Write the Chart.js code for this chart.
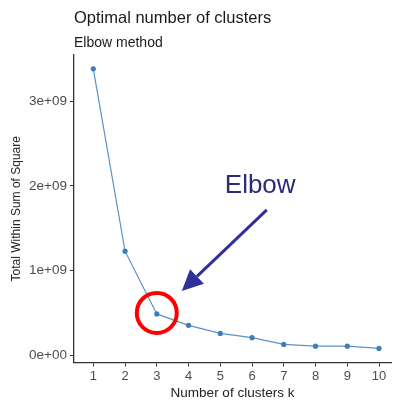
<!DOCTYPE html>
<html>
<head>
<meta charset="utf-8">
<script src="https://cdn.jsdelivr.net/npm/chart.js@4"></script>
<style>
  html, body { margin: 0; padding: 0; background: #fff; }
  #wrap { width: 395px; height: 401px; }
</style>
</head>
<body>
<div id="wrap"><canvas id="chart-elbow"></canvas></div>
<script>
// k values and total within-cluster sum of squares
const clusters = [1, 2, 3, 4, 5, 6, 7, 8, 9, 10];
const wss = [3.38e9, 1.23e9, 0.49e9, 0.355e9, 0.26e9, 0.21e9, 0.13e9, 0.11e9, 0.11e9, 0.083e9];
const yTicks = [0, 1e9, 2e9, 3e9];
const elbowIndex = 2;

const FONT = '"Liberation Sans", Arial, sans-serif';

// '1e+09' style labels
function sciLabel(v) {
  if (v === 0) return '0e+00';
  const exp = Math.floor(Math.log10(v));
  const mant = Math.round(v / Math.pow(10, exp));
  return mant + 'e+' + String(exp).padStart(2, '0');
}

// red ring around the elbow point plus the arrow and its label
const elbowMarker = {
  id: 'elbowMarker',
  afterDatasetsDraw(chart) {
    const { ctx, scales } = chart;
    const px = scales.x.getPixelForValue(clusters[elbowIndex]);
    const py = scales.y.getPixelForValue(wss[elbowIndex]);
    ctx.save();

    ctx.strokeStyle = '#ff0000';
    ctx.lineWidth = 4;
    ctx.beginPath();
    ctx.arc(px, py - 1, 20, 0, Math.PI * 2);
    ctx.stroke();

    const x0 = px + 110, y0 = py - 104;
    const x1 = px + 25, y1 = py - 23;
    const ang = Math.atan2(y1 - y0, x1 - x0);
    const headLen = 21, headW = 10;
    const bx = x1 - headLen * Math.cos(ang), by = y1 - headLen * Math.sin(ang);
    ctx.strokeStyle = '#2f3199';
    ctx.fillStyle = '#2f3199';
    ctx.lineWidth = 3;
    ctx.beginPath();
    ctx.moveTo(x0, y0);
    ctx.lineTo(bx, by);
    ctx.stroke();
    ctx.beginPath();
    ctx.moveTo(x1, y1);
    ctx.lineTo(bx + headW * Math.sin(ang), by - headW * Math.cos(ang));
    ctx.lineTo(bx - headW * Math.sin(ang), by + headW * Math.cos(ang));
    ctx.closePath();
    ctx.fill();

    ctx.fillStyle = '#2a2c78';
    ctx.font = '26px ' + FONT;
    ctx.textAlign = 'left';
    ctx.textBaseline = 'alphabetic';
    ctx.fillText('Elbow', px + 68, py - 121);
    ctx.restore();
  }
};

new Chart(document.getElementById('chart-elbow'), {
  type: 'line',
  data: {
    datasets: [{
      data: clusters.map((k, i) => ({ x: k, y: wss[i] })),
      borderColor: '#5b93c7',
      borderWidth: 1.2,
      pointBackgroundColor: '#3f7db6',
      pointBorderWidth: 0,
      pointRadius: 2.6,
      tension: 0
    }]
  },
  options: {
    responsive: true,
    maintainAspectRatio: false,
    animation: false,
    layout: { padding: { left: 0, right: 0, top: 0, bottom: 0 } },
    plugins: {
      legend: { display: false },
      tooltip: { enabled: false },
      title: {
        display: true,
        text: 'Optimal number of clusters',
        align: 'start',
        fullSize: false,
        color: '#1a1a1a',
        font: { family: FONT, size: 16.5, weight: 'normal' },
        padding: { top: 9, bottom: 3 }
      },
      subtitle: {
        display: true,
        text: 'Elbow method',
        align: 'start',
        fullSize: false,
        color: '#1a1a1a',
        font: { family: FONT, size: 14 },
        padding: { top: 3, bottom: 3.4 }
      }
    },
    scales: {
      x: {
        type: 'linear',
        min: 0.392,
        max: 10.378,
        afterBuildTicks: s => { s.ticks = clusters.map(v => ({ value: v })); },
        afterFit: s => { s.height = 38.5; },
        grid: { drawOnChartArea: false, tickLength: 4, color: '#333', tickColor: '#333' },
        border: { display: true, color: '#333', width: 1.3 },
        ticks: { color: '#4d4d4d', font: { family: FONT, size: 13 }, padding: 2, maxRotation: 0 },
        title: {
          display: true,
          text: 'Number of clusters k',
          color: '#222',
          font: { family: FONT, size: 13.5 },
          padding: { top: 0, bottom: 0 }
        }
      },
      y: {
        min: -0.083e9,
        max: 3.543e9,
        afterBuildTicks: s => { s.ticks = yTicks.map(v => ({ value: v })); },
        afterFit: s => { s.width = 74; },
        grid: { drawOnChartArea: false, tickLength: 4, color: '#333', tickColor: '#333' },
        border: { display: true, color: '#333', width: 1.3 },
        ticks: { color: '#4d4d4d', font: { family: FONT, size: 13.5 }, padding: 3, callback: v => sciLabel(v) },
        title: {
          display: true,
          text: 'Total Within Sum of Square',
          color: '#222',
          font: { family: FONT, size: 12 },
          padding: { top: 9, bottom: 0 }
        }
      }
    }
  },
  plugins: [elbowMarker]
});
</script>
</body>
</html>
